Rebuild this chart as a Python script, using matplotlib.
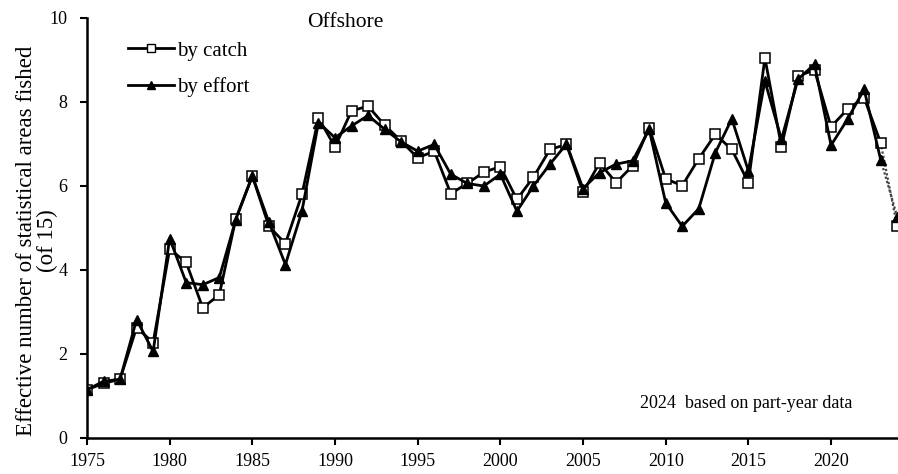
import matplotlib
matplotlib.use("Agg")
import matplotlib.pyplot as plt
from matplotlib.lines import Line2D

years = list(range(1975, 2025))

by_catch = [1.15, 1.30, 1.40, 2.63, 2.27, 4.50, 4.18, 3.10, 3.41, 5.22,
            6.24, 5.04, 4.63, 5.80, 7.62, 6.93, 7.79, 7.90, 7.45, 7.07,
            6.67, 6.83, 5.82, 6.06, 6.33, 6.46, 5.68, 6.21, 6.87, 6.99,
            5.85, 6.55, 6.08, 6.48, 7.39, 6.17, 6.01, 6.65, 7.23, 6.87,
            6.08, 9.05, 6.94, 8.62, 8.76, 7.41, 7.83, 8.10, 7.03, 5.04]

by_effort = [1.15, 1.35, 1.40, 2.82, 2.06, 4.75, 3.70, 3.65, 3.82, 5.20,
             6.24, 5.14, 4.13, 5.40, 7.51, 7.15, 7.43, 7.68, 7.35, 7.05,
             6.83, 6.99, 6.28, 6.06, 6.00, 6.28, 5.40, 6.00, 6.52, 7.00,
             5.94, 6.32, 6.52, 6.60, 7.35, 5.60, 5.04, 5.46, 6.79, 7.60,
             6.36, 8.50, 7.11, 8.54, 8.90, 6.97, 7.59, 8.30, 6.63, 5.27]

x_ticks = [1975, 1980, 1985, 1990, 1995, 2000, 2005, 2010, 2015, 2020]
y_ticks = [0, 2, 4, 6, 8, 10]

plt.rcParams["font.family"] = ["Liberation Serif", "DejaVu Serif"]

fig = plt.figure(figsize=(8.98, 4.74), dpi=100)
ax = fig.add_axes([87 / 898, 36 / 474, (898 - 87) / 898, (438 - 18) / 474])

lw = 2.0
sq = dict(marker="s", ms=7.2, mfc="white", mec="black", mew=1.1)
tri = dict(marker="^", ms=6.5, mfc="black", mec="black")

# full-year data drawn solid, the part-year final point joined with a dotted segment
ax.plot(years[:-1], by_catch[:-1], color="black", lw=lw, zorder=3, **sq)
ax.plot(years[:-1], by_effort[:-1], color="black", lw=lw, zorder=4, **tri)
ax.plot(years[-2:], by_catch[-2:], color="#444444", lw=1.6, ls=(0, (1, 1)), zorder=2)
ax.plot(years[-2:], by_effort[-2:], color="#444444", lw=1.6, ls=(0, (1, 1)), zorder=2)
ax.plot(years[-1:], by_catch[-1:], ls="none", zorder=3, clip_on=False, **sq)
ax.plot(years[-1:], by_effort[-1:], ls="none", zorder=4, clip_on=False, **tri)

ax.set_xlim(1975, 2024.05)
ax.set_ylim(0, 10)
ax.set_xticks(x_ticks)
ax.set_yticks(y_ticks)
ax.tick_params(axis="both", direction="out", length=5, width=1.5, labelsize=13,
               colors="black")
ax.tick_params(axis="x", pad=6)
ax.tick_params(axis="y", pad=9)
for side in ("top", "right"):
    ax.spines[side].set_visible(False)
for side in ("left", "bottom"):
    ax.spines[side].set_linewidth(1.8)

ax.set_ylabel("Effective number of statistical areas fished\n(of 15)",
              fontsize=16.5, linespacing=0.95)
ax.yaxis.set_label_coords(-0.036, 0.47)

ax.text(1990.6, 9.9, "Offshore", ha="center", va="center", fontsize=15.5)
ax.text(2021.3, 0.83, "2024  based on part-year data", ha="right",
        va="center", fontsize=13)

handles = [
    Line2D([], [], color="black", lw=2, marker="s", ms=6, mfc="white",
           mec="black", mew=1.0),
    Line2D([], [], color="black", lw=2, marker="^", ms=5.5, mfc="black"),
]
ax.legend(handles, ["by catch", "by effort"], loc="upper left",
          bbox_to_anchor=(0.03, 0.985), frameon=False, fontsize=15,
          handlelength=2.2, handletextpad=0.15, labelspacing=0.8,
          borderpad=0.3)

fig.savefig("out.png", dpi=100)
